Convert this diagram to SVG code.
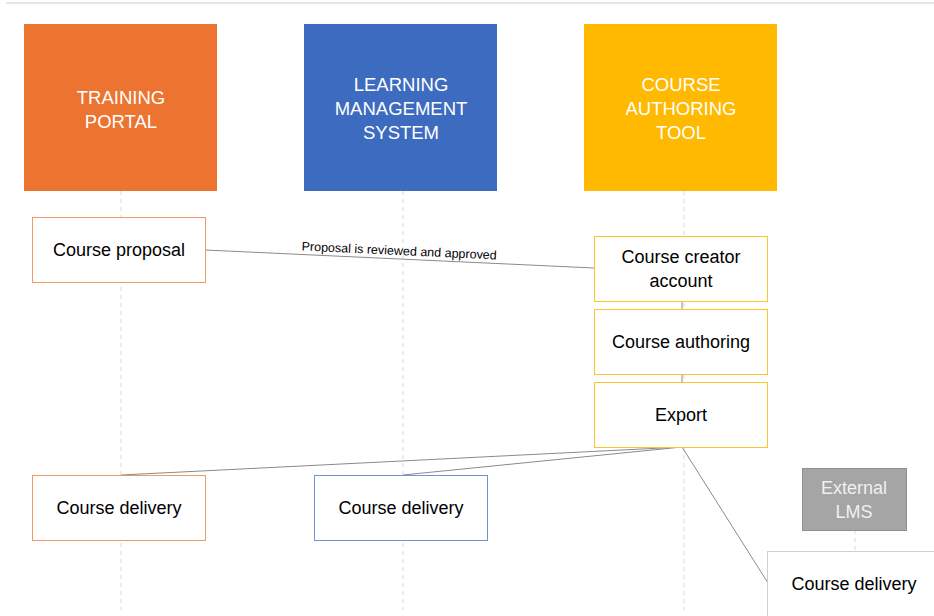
<svg xmlns="http://www.w3.org/2000/svg" width="934" height="616" viewBox="0 0 934 616">
<defs>
<style>
.hdr{font-family:"Liberation Sans",Arial,sans-serif;font-size:18.5px;fill:#ffffff;text-anchor:middle}
.t{font-family:"Liberation Sans",Arial,sans-serif;font-size:18px;fill:#000000;text-anchor:middle}
.life{stroke:#d9d9d9;stroke-width:1;stroke-dasharray:4 4;fill:none}
.con{stroke:#8a8a8a;stroke-width:1;fill:none}
.box{fill:#ffffff;stroke-width:1}
.o{stroke:#f29a63}
.b{stroke:#6f93d6}
.y{stroke:#ffc32e}
.g{stroke:#cfcfcf}
</style>
</defs>
<rect x="0" y="0" width="934" height="616" fill="#ffffff"/>
<line x1="6" y1="3" x2="934" y2="3" stroke="#e6e6e6" stroke-width="2"/>
<g id="lifelines">
<line class="life" x1="121" y1="191" x2="121" y2="610"/>
<line class="life" x1="403" y1="191" x2="403" y2="610"/>
<line class="life" x1="684" y1="191" x2="684" y2="610"/>
<line class="life" x1="855" y1="530" x2="855" y2="552"/>
</g>
<g id="connectors">
<line class="con" x1="205" y1="250" x2="594" y2="268"/>
<text x="399" y="255" font-family="'Liberation Sans',Arial,sans-serif" font-size="12.5" fill="#000" text-anchor="middle" transform="rotate(2.65 399 255)">Proposal is reviewed and approved</text>
<line class="con" x1="682" y1="301" x2="682" y2="309"/>
<line class="con" x1="682" y1="374" x2="682" y2="382"/>
<line class="con" x1="682" y1="447" x2="121" y2="475"/>
<line class="con" x1="682" y1="447" x2="403" y2="475"/>
<line class="con" x1="682" y1="447" x2="768" y2="583"/>
</g>
<g id="training-portal">
<rect x="24" y="24" width="193" height="167" fill="#ec7430"/>
<text class="hdr" x="121" y="104">TRAINING</text>
<text class="hdr" x="121" y="128">PORTAL</text>
</g>
<g id="lms">
<rect x="304" y="24" width="193" height="167" fill="#3d6bbf"/>
<text class="hdr" x="401" y="91">LEARNING</text>
<text class="hdr" x="401" y="115">MANAGEMENT</text>
<text class="hdr" x="401" y="139">SYSTEM</text>
</g>
<g id="authoring-tool">
<rect x="584" y="24" width="193" height="167" fill="#ffb900"/>
<text class="hdr" x="681" y="91">COURSE</text>
<text class="hdr" x="681" y="115">AUTHORING</text>
<text class="hdr" x="681" y="139">TOOL</text>
</g>
<g id="course-proposal">
<rect class="box o" x="32.5" y="217.5" width="173" height="65"/>
<text class="t" x="119" y="256">Course proposal</text>
</g>
<g id="course-creator-account">
<rect class="box y" x="594.5" y="236.5" width="173" height="65"/>
<text class="t" x="681" y="263">Course creator</text>
<text class="t" x="681" y="287">account</text>
</g>
<g id="course-authoring">
<rect class="box y" x="594.5" y="309.5" width="173" height="65"/>
<text class="t" x="681" y="348">Course authoring</text>
</g>
<g id="export">
<rect class="box y" x="594.5" y="382.5" width="173" height="65"/>
<text class="t" x="681" y="421">Export</text>
</g>
<g id="delivery-portal">
<rect class="box o" x="32.5" y="475.5" width="173" height="65"/>
<text class="t" x="119" y="514">Course delivery</text>
</g>
<g id="delivery-lms">
<rect class="box b" x="314.5" y="475.5" width="173" height="65"/>
<text class="t" x="401" y="514">Course delivery</text>
</g>
<g id="external-lms">
<rect x="802.5" y="468.5" width="104" height="62" fill="#a5a5a5" stroke="#8f8f8f"/>
<text class="t" x="854" y="494" style="fill:#f0f0f0">External</text>
<text class="t" x="854" y="518" style="fill:#f0f0f0">LMS</text>
</g>
<g id="delivery-external">
<rect class="box g" x="767.5" y="551.5" width="173" height="70"/>
<text class="t" x="854" y="590">Course delivery</text>
</g>
</svg>
